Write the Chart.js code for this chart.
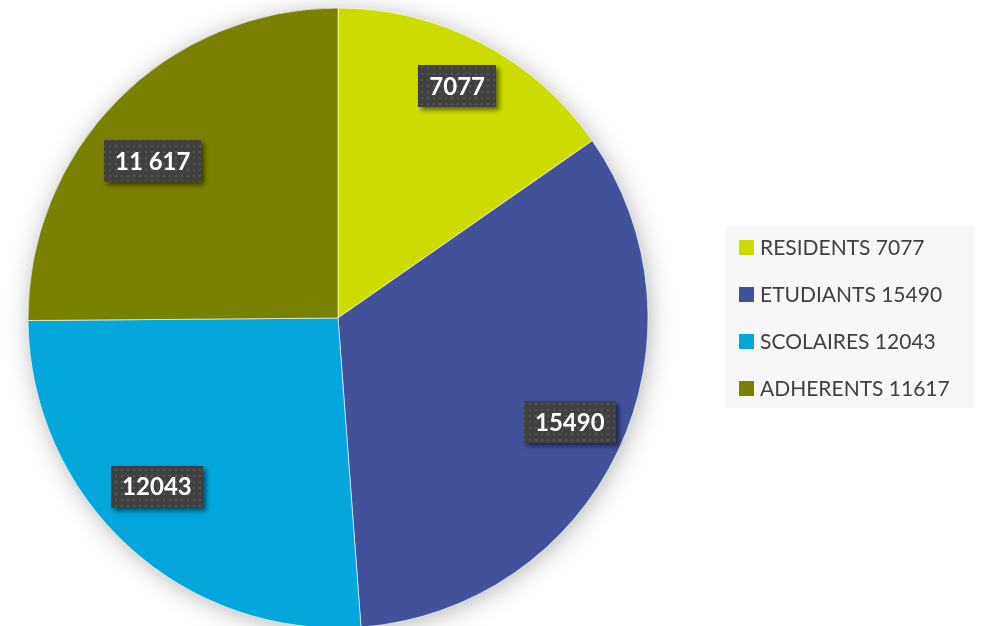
<!DOCTYPE html>
<html>
<head>
<meta charset="utf-8">
<script src="https://cdn.jsdelivr.net/npm/chart.js@4"></script>
<style>
  html, body { margin: 0; padding: 0; background: #fff; overflow: hidden; }
  #wrap { width: 984px; height: 626px; position: relative; }
</style>
</head>
<body>
<div id="wrap"><canvas id="pieChart" width="984" height="626"></canvas></div>
<script>
const categories = ['RESIDENTS', 'ETUDIANTS', 'SCOLAIRES', 'ADHERENTS'];
const values = [7077, 15490, 12043, 11617];
const valueLabels = ['7077', '15490', '12043', '11 617'];
const legendLabels = ['RESIDENTS 7077', 'ETUDIANTS 15490', 'SCOLAIRES 12043', 'ADHERENTS 11617'];
const colors = ['#cddc00', '#43519b', '#04a7db', '#7a8000'];

// small nudges of the value boxes from the slice middle (px)
const labelNudge = [[3, -9], [5, -4], [-11, -16], [-7, 20]];

// soft shadow under the pie
const pieShadow = {
  id: 'pieShadow',
  beforeDatasetsDraw(chart) {
    const arc = chart.getDatasetMeta(0).data[0];
    if (!arc) return;
    const ctx = chart.ctx;
    ctx.save();
    ctx.shadowColor = 'rgba(0,0,0,0.3)';
    ctx.shadowBlur = 26;
    ctx.shadowOffsetX = 2;
    ctx.shadowOffsetY = 3;
    ctx.fillStyle = '#ffffff';
    ctx.beginPath();
    ctx.arc(arc.x, arc.y, arc.outerRadius - 1, 0, Math.PI * 2);
    ctx.fill();
    ctx.restore();
  }
};

let dotPattern = null;
function getPattern(ctx) {
  if (dotPattern) return dotPattern;
  const c = document.createElement('canvas');
  c.width = 6; c.height = 6;
  const p = c.getContext('2d');
  p.fillStyle = '#404040';
  p.fillRect(0, 0, 6, 6);
  p.fillStyle = '#575757';
  p.fillRect(1, 1, 2, 2);
  dotPattern = ctx.createPattern(c, 'repeat');
  return dotPattern;
}

// value boxes on the slices
const valueBoxes = {
  id: 'valueBoxes',
  afterDatasetsDraw(chart) {
    const ctx = chart.ctx;
    const meta = chart.getDatasetMeta(0);
    ctx.save();
    ctx.font = 'bold 24px Lato, "Open Sans", sans-serif';
    ctx.textAlign = 'center';
    ctx.textBaseline = 'middle';
    meta.data.forEach((arc, i) => {
      const mid = (arc.startAngle + arc.endAngle) / 2;
      const r = arc.outerRadius * 0.81;
      const x = arc.x + Math.cos(mid) * r + labelNudge[i][0];
      const y = arc.y + Math.sin(mid) * r + labelNudge[i][1];
      const w = ctx.measureText(valueLabels[i]).width + 22;
      const h = 42;
      ctx.save();
      ctx.shadowColor = 'rgba(0,0,0,0.55)';
      ctx.shadowBlur = 5;
      ctx.shadowOffsetX = 3;
      ctx.shadowOffsetY = 3;
      ctx.fillStyle = getPattern(ctx);
      ctx.fillRect(Math.round(x - w / 2), Math.round(y - h / 2), Math.round(w), h);
      ctx.restore();
      ctx.fillStyle = '#ffffff';
      ctx.fillText(valueLabels[i], x, y + 1);
    });
    ctx.restore();
  }
};

// legend panel on the right
const sideLegend = {
  id: 'sideLegend',
  afterDraw(chart) {
    const ctx = chart.ctx;
    const left = 726, top = 226, width = 248, height = 182;
    ctx.save();
    ctx.fillStyle = '#f7f7f7';
    ctx.fillRect(left, top, width, height);
    ctx.font = '21px Lato, "Open Sans", sans-serif';
    ctx.textBaseline = 'middle';
    ctx.textAlign = 'left';
    legendLabels.forEach((txt, i) => {
      const y = top + 21 + i * 47;
      ctx.fillStyle = colors[i];
      ctx.fillRect(left + 13, y - 7, 15, 15);
      ctx.fillStyle = '#404040';
      ctx.fillText(txt, left + 34, y + 1);
    });
    ctx.restore();
  }
};

new Chart(document.getElementById('pieChart'), {
  type: 'pie',
  data: {
    labels: categories,
    datasets: [{
      data: values,
      backgroundColor: colors,
      borderColor: 'rgba(255,255,255,0.6)',
      borderWidth: 1
    }]
  },
  options: {
    responsive: false,
    animation: false,
    radius: 310,
    layout: { padding: { left: 28, right: 336, top: 10, bottom: 0 } },
    plugins: {
      legend: { display: false },
      tooltip: { enabled: false }
    }
  },
  plugins: [pieShadow, valueBoxes, sideLegend]
});
</script>
</body>
</html>
